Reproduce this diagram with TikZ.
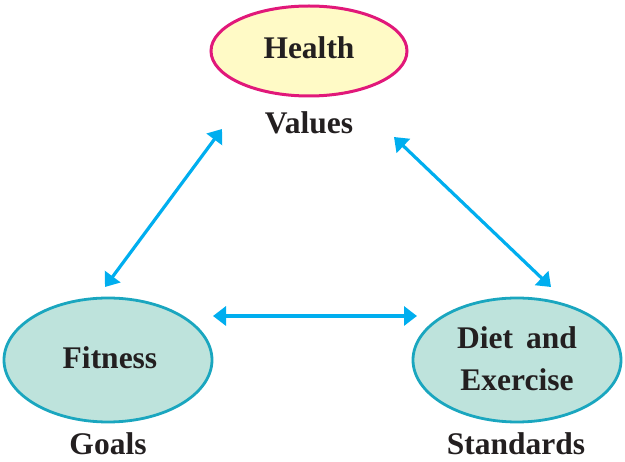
\documentclass[tikz,border=0pt]{standalone}
\usepackage{fontspec}
\setmainfont{Liberation Serif}
\usetikzlibrary{shapes.geometric,arrows.meta}
\definecolor{txt}{HTML}{231F20}
\definecolor{magentaedge}{HTML}{E1187A}
\definecolor{yellowfill}{HTML}{FFFAC6}
\definecolor{tealfill}{HTML}{BEE3DC}
\definecolor{tealedge}{HTML}{1AA6BF}
\definecolor{arrowblue}{HTML}{00AEEF}
\tikzset{
  lbl/.style={font=\fontsize{31.5}{42}\selectfont\bfseries, text=txt, inner sep=0pt, align=center},
  topoval/.style={ellipse, draw=magentaedge, fill=yellowfill, line width=3pt, minimum width=196pt, minimum height=90pt, inner sep=0pt},
  botoval/.style={ellipse, draw=tealedge, fill=tealfill, line width=2.8pt, minimum width=208pt, minimum height=124pt, inner sep=0pt},
  link/.style={draw=arrowblue, line width=3.2pt, {Triangle[length=13pt,width=19pt]}-{Triangle[length=13pt,width=19pt]}}
}
\begin{document}
\begin{tikzpicture}[x=1pt,y=-1pt]
\useasboundingbox (0,0) rectangle (625,462);
\node[topoval] (health) at (309,51) {};
\node[lbl] (healtht) at (309,48) {Health};
\node[lbl] (values) at (309,123) {Values};
\node[botoval] (fitness) at (108,360) {};
\node[lbl] (fitnesst) at (110,358) {Fitness};
\node[lbl] (goals) at (108,444) {Goals};
\node[botoval] (diet) at (517,360) {};
\node[lbl] (diett) at (517,359) {Diet\, and\\Exercise};
\node[lbl] (standards) at (516,444) {Standards};
\coordinate (l1) at (222,129);
\coordinate (l2) at (105,287);
\coordinate (r1) at (394,137);
\coordinate (r2) at (551,287);
\coordinate (h1) at (213,316);
\coordinate (h2) at (417,316);
\draw[link] (l1) -- (l2);
\draw[link] (r1) -- (r2);
\draw[link] (h1) -- (h2);
\end{tikzpicture}
\end{document}
